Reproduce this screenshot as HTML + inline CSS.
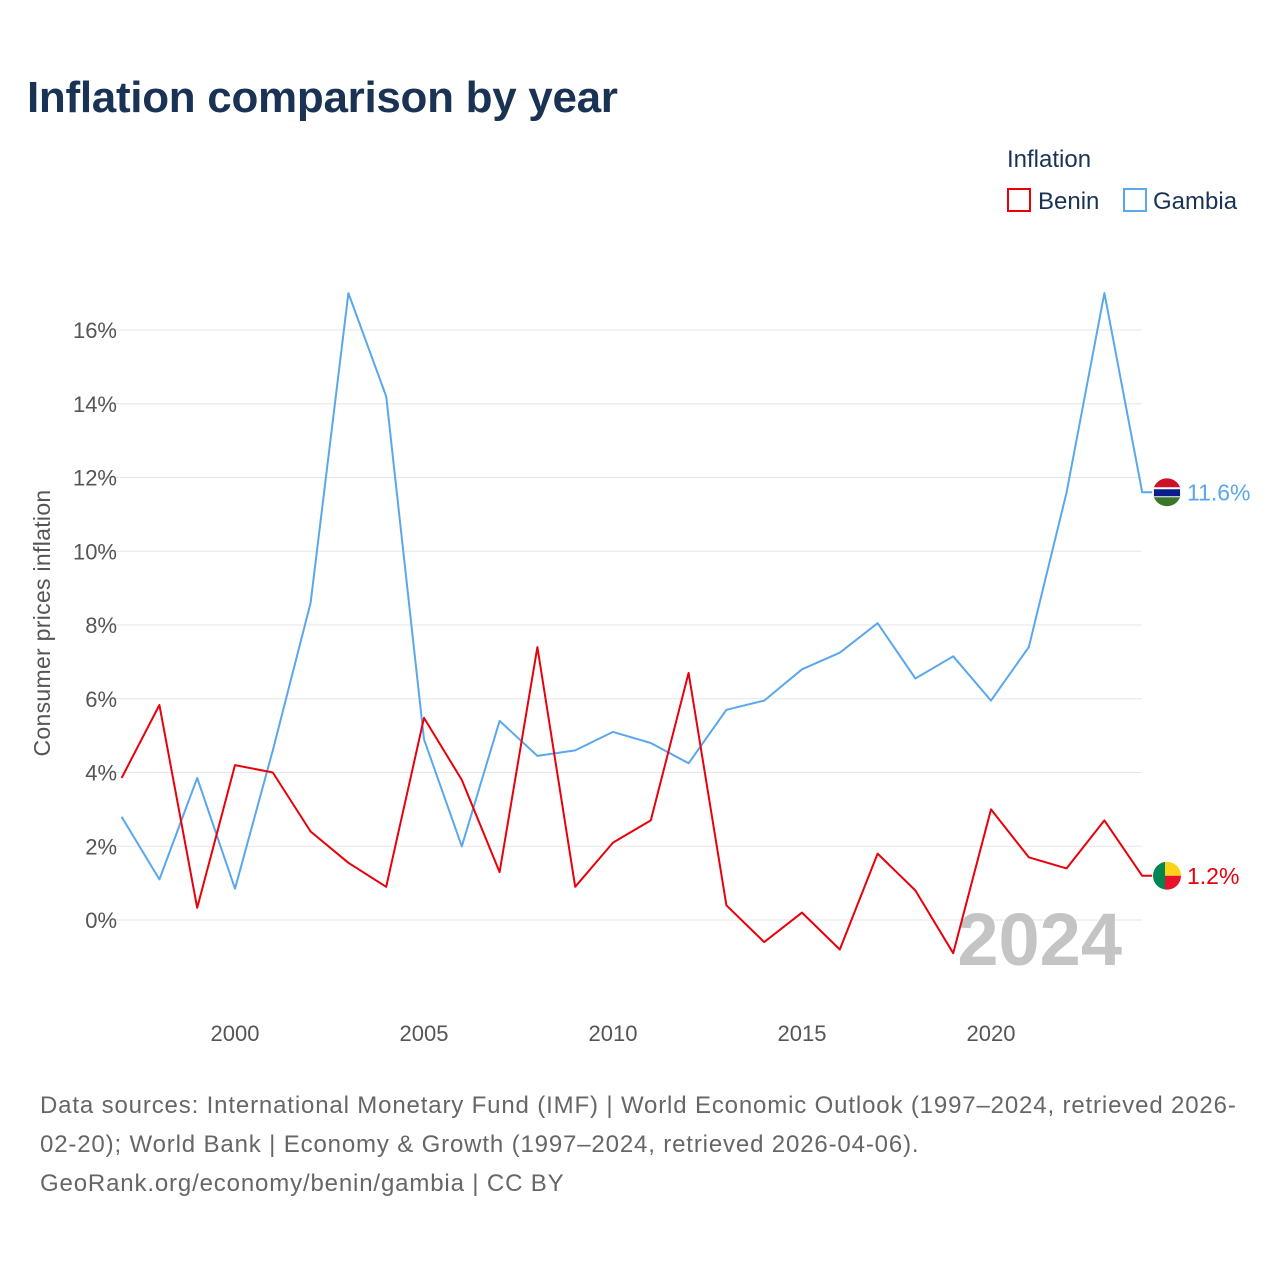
<!DOCTYPE html>
<html><head><meta charset="utf-8"><style>
body{margin:0;background:#fff;font-family:"Liberation Sans",sans-serif}
svg text{font-family:"Liberation Sans",sans-serif}
</style></head><body>
<svg id="c" width="1280" height="1280" xmlns="http://www.w3.org/2000/svg">
<text x="27" y="112" font-size="44" font-weight="bold" fill="#1a3355" letter-spacing="-0.3">Inflation comparison by year</text>
<text x="1007" y="167" font-size="24" fill="#1a3355">Inflation</text>
<g><rect x="1008" y="189" width="22" height="22" fill="none" stroke="#e8000b" stroke-width="2"/><text x="1038" y="209" font-size="24" fill="#1a3355">Benin</text></g>
<g><rect x="1124" y="189" width="22" height="22" fill="none" stroke="#5aa7ec" stroke-width="2"/><text x="1153" y="209" font-size="24" fill="#1a3355">Gambia</text></g>
<g id="grid"></g>
<text x="1122" y="965" font-size="74" font-weight="bold" fill="#c4c4c4" text-anchor="end">2024</text>
<text transform="translate(50,623) rotate(-90)" font-size="23" fill="#555" text-anchor="middle" letter-spacing="0.3">Consumer prices inflation</text>
<g id="series"></g>
<g font-size="24" fill="#666" letter-spacing="0.85">
<text x="40" y="1113">Data sources: International Monetary Fund (IMF) | World Economic Outlook (1997–2024, retrieved 2026-</text>
<text x="40" y="1152">02-20); World Bank | Economy &amp; Growth (1997–2024, retrieved 2026-04-06).</text>
<text x="40" y="1191">GeoRank.org/economy/benin/gambia | CC BY</text>
</g>
</svg>
<script>
const years=[1997,1998,1999,2000,2001,2002,2003,2004,2005,2006,2007,2008,2009,2010,2011,2012,2013,2014,2015,2016,2017,2018,2019,2020,2021,2022,2023,2024];
const benin=[3.85,5.83,0.33,4.2,4.0,2.4,1.55,0.9,5.48,3.8,1.3,7.4,0.9,2.1,2.7,6.7,0.4,-0.6,0.2,-0.8,1.8,0.8,-0.9,3.0,1.7,1.4,2.7,1.2];
const gambia=[2.8,1.1,3.85,0.85,4.6,8.6,17.0,14.2,4.9,2.0,5.4,4.45,4.6,5.1,4.8,4.25,5.7,5.95,6.8,7.25,8.05,6.55,7.15,5.95,7.4,11.6,17.0,11.6];
const yTicks=[0,2,4,6,8,10,12,14,16];
const xTicks=[2000,2005,2010,2015,2020];
const NS="http://www.w3.org/2000/svg";
const X=v=>121.6+(v-1997)*37.8;
const Y=v=>920-v*36.875;
const grid=document.getElementById('grid'),ser=document.getElementById('series');
function mk(tag,attrs,parent){const e=document.createElementNS(NS,tag);for(const k in attrs)e.setAttribute(k,attrs[k]);parent.appendChild(e);return e;}
yTicks.forEach(t=>{
 const l=mk('line',{x1:100,x2:1142,y1:Y(t),y2:Y(t),stroke:'#e6e6e6','stroke-width':1},grid);
 
 
 const tx=mk('text',{x:117,y:Y(t)+8,'font-size':22,fill:'#555','text-anchor':'end'},grid);
 tx.textContent=t+'%';
 
 
});
xTicks.forEach(t=>{
 const tx=mk('text',{x:X(t),y:1041,'font-size':22,fill:'#555','text-anchor':'middle'},grid);
 tx.textContent=t;
 
 
});
function line(vals,color,name){
 const d=vals.map((v,i)=>(i?'L':'M')+X(years[i]).toFixed(1)+','+Y(v).toFixed(1)).join(' ')+' L'+(X(years[years.length-1])+10)+','+Y(vals[vals.length-1]).toFixed(1);
 const p=mk('path',{d:d,fill:'none',stroke:color,'stroke-width':2,'stroke-linejoin':'round'},ser);
 
 
}
line(gambia,'#5aa7ec','gambia');
line(benin,'#e8000b','benin');
const gy=Y(gambia[gambia.length-1]),by=Y(benin[benin.length-1]),cx=1167;
const gf=mk('g',{},ser);


mk('defs',{},gf).innerHTML='<clipPath id="cg"><circle cx="'+cx+'" cy="'+gy+'" r="14"/></clipPath><clipPath id="cb"><circle cx="'+cx+'" cy="'+by+'" r="14"/></clipPath>';
const gg=mk('g',{'clip-path':'url(#cg)'},gf);
mk('rect',{x:cx-14,y:gy-14,width:28,height:10,fill:'#ce1126'},gg);
mk('rect',{x:cx-14,y:gy-4,width:28,height:9,fill:'#0c1c8c',stroke:'#fff','stroke-width':2},gg);
mk('rect',{x:cx-14,y:gy+5,width:28,height:10,fill:'#3a7728'},gg);
const bf=mk('g',{'clip-path':'url(#cb)'},ser);


mk('rect',{x:cx-14,y:by-14,width:12,height:28,fill:'#008751'},bf);
mk('rect',{x:cx-2,y:by-14,width:16,height:14,fill:'#fcd116'},bf);
mk('rect',{x:cx-2,y:by,width:16,height:14,fill:'#e8112d'},bf);
const gl=mk('text',{x:1187,y:gy+8,'font-size':23,fill:'#5aa7ec'},ser);
gl.textContent=gambia[gambia.length-1].toFixed(1)+'%';


const bl=mk('text',{x:1187,y:by+8,'font-size':23,fill:'#e8000b'},ser);
bl.textContent=benin[benin.length-1].toFixed(1)+'%';


</script>
</body></html>
